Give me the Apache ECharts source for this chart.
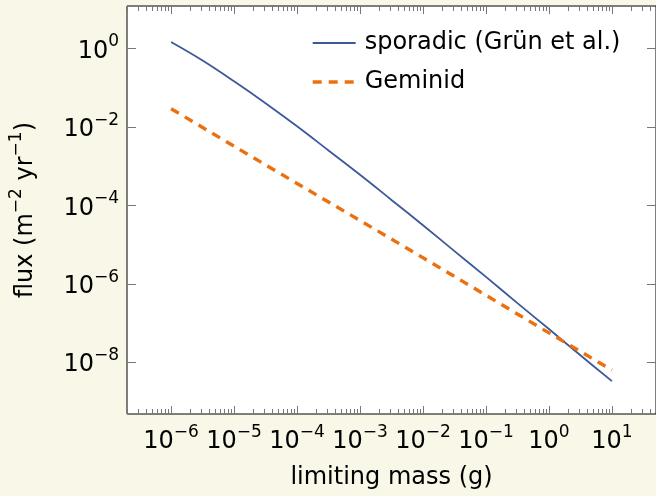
<!DOCTYPE html>
<html>
<head>
<meta charset="utf-8">
<script src="https://cdn.jsdelivr.net/npm/echarts@6/dist/echarts.min.js"></script>
<style>
  html, body { margin: 0; padding: 0; background: #f8f7e8; }
  #chart { width: 656px; height: 496px; }
</style>
</head>
<body>
<div id="chart"></div>
<script>
// limiting mass (g)
var mass = [1e-6, 3.16e-6, 1e-5, 3.16e-5, 1e-4, 3.16e-4, 1e-3, 3.16e-3, 1e-2, 3.16e-2, 1e-1, 3.16e-1, 1, 3.16, 10];
// flux (m^-2 yr^-1)
var sporadic = [1.45, 0.49, 0.145, 0.040, 0.0103, 2.5e-3, 6.0e-4, 1.37e-4, 3.1e-5, 6.8e-6, 1.5e-6, 3.2e-7, 7.0e-8, 1.5e-8, 3.3e-9];
var geminidMass = [1e-6, 1e-5, 1e-4, 1e-3, 1e-2, 1e-1, 1, 10];
var geminid = [0.029, 3.2e-3, 3.6e-4, 4.1e-5, 4.6e-6, 5.1e-7, 5.6e-8, 6.3e-9];
// tick exponents
var xTickExp = [-6, -5, -4, -3, -2, -1, 0, 1];
var yTickExp = [0, -2, -4, -6, -8];

var xMin = -6.7, xMax = 1.7;
var yMin = -9.32, yMax = 1.08;

var font = 'DejaVu Sans';

function toLog(xs, ys) {
    var out = [];
    for (var i = 0; i < xs.length; i++) out.push([Math.log10(xs[i]), Math.log10(ys[i])]);
    return out;
}

// minor ticks 2..9 x 10^n
var xMinor = [];
for (var n = -7; n <= 1; n++) {
    for (var k = 2; k <= 9; k++) {
        var v = n + Math.log10(k);
        if (v > xMin && v < xMax) xMinor.push(v);
    }
}

function powLabel(v) {
    var e = Math.round(v);
    return '{b|10}{s|' + (e < 0 ? '\u2212' + (-e) : e) + '}';
}

var rich = {
    b: { fontFamily: font, fontSize: 24, lineHeight: 30, verticalAlign: 'bottom', color: '#000' },
    s: { fontFamily: font, fontSize: 17, lineHeight: 17, verticalAlign: 'top', color: '#000' }
};

var tickStyle = { color: '#777', width: 1 };

function xAxisDef(pos, values, len, labels) {
    return {
        type: 'value', gridIndex: 0, position: pos, min: xMin, max: xMax,
        axisLine: { show: false, onZero: false },
        splitLine: { show: false },
        axisTick: { show: true, inside: true, length: len, customValues: values, lineStyle: tickStyle },
        axisLabel: labels ? { show: true, customValues: xTickExp, formatter: powLabel, margin: 10, rich: rich }
                          : { show: false }
    };
}

function yAxisDef(pos, labels) {
    return {
        type: 'value', gridIndex: 0, position: pos, min: yMin, max: yMax,
        axisLine: { show: false, onZero: false },
        splitLine: { show: false },
        axisTick: { show: true, inside: true, length: 9, customValues: yTickExp, lineStyle: tickStyle },
        axisLabel: labels ? { show: true, customValues: yTickExp, formatter: powLabel, margin: 8, rich: rich }
                          : { show: false }
    };
}

var xMain = xAxisDef('bottom', xTickExp, 8, true);
xMain.name = 'limiting mass (g)';
xMain.nameLocation = 'middle';
xMain.nameGap = 52;
xMain.nameTextStyle = { fontFamily: font, fontSize: 24, color: '#000' };

var yMain = yAxisDef('left', true);
yMain.name = '{b|flux (m}{s|\u22122}{b| yr}{s|\u22121}{b|)}';
yMain.nameLocation = 'middle';
yMain.nameGap = 89;
yMain.nameTextStyle = { fontFamily: font, fontSize: 24, color: '#000', rich: rich };

var myChart = echarts.init(document.getElementById('chart'));
myChart.setOption({
    backgroundColor: '#f8f7e8',
    animation: false,
    grid: {
        left: 127, right: -1, top: 6, bottom: 82,
        show: true, backgroundColor: '#ffffff', borderColor: '#000', borderWidth: 1
    },
    legend: {
        orient: 'vertical', left: 311, top: 31, padding: 0,
        itemWidth: 43, itemHeight: 14, itemGap: 15,
        itemStyle: { color: 'rgba(0,0,0,0)', borderWidth: 0, opacity: 0 },
        lineStyle: { width: 'inherit', type: 'inherit' },
        textStyle: { fontFamily: font, fontSize: 24, color: '#000', lineHeight: 24, padding: [0, 0, 0, 4] },
        data: ['sporadic (Grün et al.)', 'Geminid']
    },
    xAxis: [
        xMain,
        xAxisDef('bottom', xMinor, 5, false),
        xAxisDef('top', xTickExp, 8, false),
        xAxisDef('top', xMinor, 5, false)
    ],
    yAxis: [
        yMain,
        yAxisDef('right', false)
    ],
    series: [
        {
            name: 'sporadic (Grün et al.)', type: 'line', xAxisIndex: 0, yAxisIndex: 0,
            data: toLog(mass, sporadic), symbol: 'none', smooth: 0.4,
            lineStyle: { color: '#3b5998', width: 1.8 },
            itemStyle: { color: '#3b5998' }
        },
        {
            name: 'Geminid', type: 'line', xAxisIndex: 0, yAxisIndex: 0,
            data: toLog(geminidMass, geminid), symbol: 'none',
            lineStyle: { color: '#eb7010', width: 3.4, type: [9, 7], cap: 'butt' },
            itemStyle: { color: '#eb7010' }
        }
    ]
});
window.addEventListener('resize', myChart.resize);
</script>
</body>
</html>
